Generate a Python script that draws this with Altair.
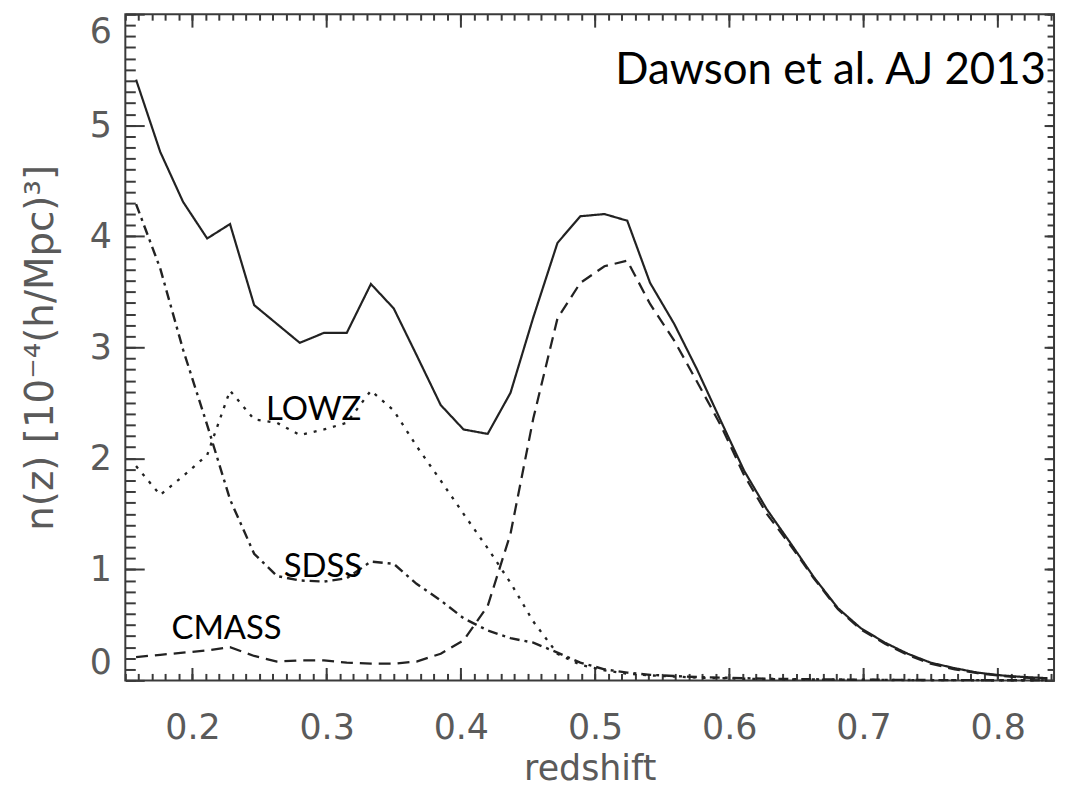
import altair as alt
import pandas as pd

# ---- data ----
z = [0.158, 0.176, 0.193, 0.211, 0.228, 0.246, 0.263, 0.280, 0.298, 0.315,
     0.333, 0.350, 0.367, 0.385, 0.402, 0.420, 0.437, 0.454, 0.472, 0.489,
     0.507, 0.524, 0.541, 0.559, 0.576, 0.594, 0.611, 0.628, 0.646, 0.663,
     0.681, 0.698, 0.716, 0.733, 0.750, 0.768, 0.785, 0.803, 0.820, 0.837]

total = [5.41, 4.76, 4.31, 3.98, 4.11, 3.38, 3.21, 3.04, 3.13, 3.13,
         3.57, 3.35, 2.93, 2.48, 2.26, 2.22, 2.59, 3.27, 3.94, 4.18,
         4.20, 4.14, 3.58, 3.21, 2.80, 2.33, 1.89, 1.54, 1.23, 0.93,
         0.65, 0.47, 0.34, 0.24, 0.16, 0.11, 0.07, 0.045, 0.03, 0.02]

cmass = [0.21, 0.23, 0.25, 0.27, 0.30, 0.22, 0.17, 0.18, 0.18, 0.16,
         0.15, 0.15, 0.17, 0.24, 0.36, 0.67, 1.32, 2.36, 3.26, 3.58,
         3.73, 3.78, 3.39, 3.06, 2.69, 2.29, 1.85, 1.50, 1.21, 0.92,
         0.64, 0.46, 0.33, 0.23, 0.15, 0.10, 0.065, 0.04, 0.025, 0.015]

lowz = [1.93, 1.67, 1.84, 2.03, 2.61, 2.35, 2.32, 2.21, 2.26, 2.32,
        2.61, 2.43, 2.11, 1.80, 1.50, 1.19, 0.88, 0.53, 0.24, 0.14,
        0.09, 0.06, 0.045, 0.035, 0.025, 0.02, 0.015, 0.012, 0.01, 0.008,
        0.006, 0.005, 0.004, 0.003, 0.002, 0.002, 0.001, 0.001, 0.001, 0.0]

sdss = [4.29, 3.71, 2.98, 2.30, 1.63, 1.14, 0.94, 0.90, 0.89, 0.92,
        1.07, 1.05, 0.87, 0.72, 0.56, 0.45, 0.38, 0.34, 0.25, 0.16,
        0.10, 0.07, 0.05, 0.04, 0.03, 0.025, 0.02, 0.015, 0.012, 0.01,
        0.008, 0.006, 0.005, 0.004, 0.003, 0.002, 0.002, 0.001, 0.001, 0.0]

series_names = ["total", "CMASS", "LOWZ", "SDSS"]

x_major = [0.2, 0.3, 0.4, 0.5, 0.6, 0.7, 0.8]
y_major = [0, 1, 2, 3, 4, 5, 6]
x_minor = [round(0.15 + 0.01 * i, 2) for i in range(70)]
y_minor = [round(0.1 * i, 1) for i in range(61)]

label_text = ["LOWZ", "SDSS", "CMASS"]
label_z = [0.2548, 0.268, 0.1844]
label_n = [2.346, 0.931, 0.376]

credit_text = ["Dawson et al. AJ 2013"]
credit_z = [0.836]
credit_n = [5.37]

X_DOMAIN = [0.15, 0.842]
Y_DOMAIN = [0, 6]

# ---- tables ----
rows = []
for name, arr in zip(series_names, [total, cmass, lowz, sdss]):
    for zi, v in zip(z, arr):
        rows.append({"z": zi, "n": v, "series": name})
long_df = pd.DataFrame(rows)
labels_df = pd.DataFrame({"z": label_z, "n": label_n, "text": label_text})
credit_df = pd.DataFrame({"z": credit_z, "n": credit_n, "text": credit_text})

AX_COLOR = "#3a3a3a"
LBL_COLOR = "#5a5a5a"
TICK_FONT = "DejaVu Sans"

xscale = alt.Scale(domain=X_DOMAIN, nice=False, zero=False)
yscale = alt.Scale(domain=Y_DOMAIN, nice=False, zero=False)

x_main_axis = alt.Axis(orient="bottom", values=x_major, format=".1f", offset=-13,
                       tickSize=13, tickWidth=2, tickColor=AX_COLOR, domain=False,
                       grid=False, labelPadding=30, labelFontSize=35, labelFont=TICK_FONT,
                       labelColor=LBL_COLOR, labelFlush=False,
                       title="redshift", titleFont=TICK_FONT, titleFontSize=35,
                       titleFontWeight="normal", titleColor=LBL_COLOR,
                       titleY=113, titleBaseline="alphabetic")
y_main_axis = alt.Axis(orient="left", values=y_major, format="d", offset=-19,
                       tickSize=19, tickWidth=2, tickColor=AX_COLOR, domain=False,
                       grid=False, labelPadding=14, labelFontSize=35, labelFont=TICK_FONT,
                       labelColor=LBL_COLOR, labelFlush=True,
                       title="n(z)  [10⁻⁴(h/Mpc)³]", titleFont=TICK_FONT,
                       titleFontSize=39, titleFontWeight="normal", titleColor=LBL_COLOR,
                       titleX=-92, titleY=335, titleBaseline="alphabetic", titleAngle=270)


def tick_axis(orient, values, size):
    return alt.Axis(orient=orient, values=values, offset=-size, tickSize=size,
                    tickWidth=2, tickColor=AX_COLOR, domain=False, grid=False,
                    labels=False, title=None)


lines = alt.Chart(long_df).mark_line(color="#222222").encode(
    x=alt.X("z:Q", scale=xscale, axis=x_main_axis),
    y=alt.Y("n:Q", scale=yscale, axis=y_main_axis),
    strokeDash=alt.StrokeDash(
        "series:N",
        scale=alt.Scale(domain=series_names,
                        range=[[1, 0], [12, 7], [3, 7], [10, 5, 3, 5]]),
        legend=None),
    strokeWidth=alt.StrokeWidth(
        "series:N",
        scale=alt.Scale(domain=series_names, range=[2.2, 2.4, 3.0, 2.2]),
        legend=None),
    detail="series:N",
)

labels = alt.Chart(labels_df).mark_text(
    align="left", baseline="alphabetic", font="Lato", fontSize=33, color="black"
).encode(
    x=alt.X("z:Q", scale=xscale, axis=x_main_axis),
    y=alt.Y("n:Q", scale=yscale, axis=y_main_axis),
    text="text:N",
)

credit = alt.Chart(credit_df).mark_text(
    align="right", baseline="alphabetic", font="Lato", fontSize=44, color="black"
).encode(
    x=alt.X("z:Q", scale=xscale, axis=x_main_axis),
    y=alt.Y("n:Q", scale=yscale, axis=y_main_axis),
    text="text:N",
)

main = alt.layer(lines, labels, credit)


def tick_layer(xorient, xvals, xsize, yorient, yvals, ysize):
    return alt.Chart(long_df).mark_point(opacity=0).encode(
        x=alt.X("z:Q", scale=xscale, axis=tick_axis(xorient, xvals, xsize)),
        y=alt.Y("n:Q", scale=yscale, axis=tick_axis(yorient, yvals, ysize)),
    )


minor_bl = tick_layer("bottom", x_minor, 7, "left", y_minor, 10)
major_tr = tick_layer("top", x_major, 13, "right", y_major, 10)
minor_tr = tick_layer("top", x_minor, 6, "right", y_minor, 7)

chart = alt.layer(main, minor_bl, major_tr, minor_tr).resolve_scale(
    x="independent", y="independent"
).properties(
    width=934, height=670,
    autosize=alt.AutoSizeParams(type="none"),
    padding={"left": 118, "top": 4, "right": 6, "bottom": 108},
    background="white",
).configure_view(
    stroke=AX_COLOR, strokeWidth=2
)

chart.save("out.html", embed_options={"renderer": "svg", "actions": False})
